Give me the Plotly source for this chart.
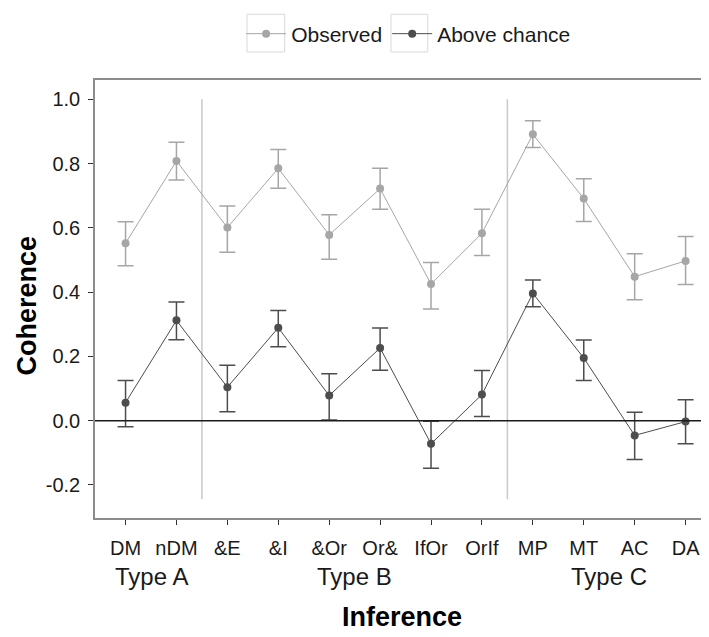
import plotly.graph_objects as go

categories = ["DM", "nDM", "&E", "&I", "&Or", "Or&", "IfOr", "OrIf", "MP", "MT", "AC", "DA"]
observed = [0.552, 0.808, 0.601, 0.785, 0.578, 0.722, 0.425, 0.583, 0.891, 0.691, 0.448, 0.497]
observed_lo = [0.482, 0.749, 0.524, 0.723, 0.502, 0.658, 0.347, 0.514, 0.850, 0.620, 0.376, 0.424]
observed_hi = [0.619, 0.866, 0.668, 0.844, 0.641, 0.785, 0.492, 0.658, 0.933, 0.753, 0.519, 0.573]
above = [0.056, 0.312, 0.104, 0.289, 0.078, 0.226, -0.072, 0.081, 0.396, 0.195, -0.046, -0.003]
above_lo = [-0.019, 0.252, 0.028, 0.230, 0.002, 0.157, -0.148, 0.013, 0.354, 0.125, -0.121, -0.072]
above_hi = [0.125, 0.369, 0.172, 0.343, 0.146, 0.288, -0.002, 0.156, 0.438, 0.251, 0.026, 0.065]
type_labels = ["Type A", "Type B", "Type C"]
type_pos = [1.5, 5.5, 10.5]
group_breaks = [2.5, 8.5]
y_ticks = [-0.2, 0.0, 0.2, 0.4, 0.6, 0.8, 1.0]
y_ticktext = ["-0.2", "0.0", "0.2", "0.4", "0.6", "0.8", "1.0"]

xpos = list(range(1, len(categories) + 1))
FONT = "Liberation Sans, Arial, sans-serif"
C_OBS = "#a6a6a6"
C_ABV = "#4d4d4d"
TXT = "#1a1a1a"

fig = go.Figure()

def add_series(name, vals, lo, hi, color):
    fig.add_trace(go.Scatter(
        x=xpos, y=vals, name=name, mode="lines+markers",
        line=dict(color=color, width=1),
        marker=dict(color=color, size=8),
        error_y=dict(type="data", symmetric=False,
                     array=[h - v for h, v in zip(hi, vals)],
                     arrayminus=[v - l for v, l in zip(vals, lo)],
                     color=color, thickness=1.5, width=8),
    ))

add_series("Observed", observed, observed_lo, observed_hi, C_OBS)
add_series("Above chance", above, above_lo, above_hi, C_ABV)

shapes = []
for b in group_breaks:
    shapes.append(dict(type="line", xref="x", yref="y", x0=b, x1=b, y0=-0.245, y1=1.0,
                       line=dict(color="#c8c8c8", width=1.5), layer="below"))
shapes.append(dict(type="line", xref="paper", yref="y", x0=0, x1=1, y0=0, y1=0,
                   line=dict(color="#1a1a1a", width=1.5)))
# legend key boxes
for x0, x1 in [(0.2476, 0.309), (0.482, 0.542)]:
    shapes.append(dict(type="rect", xref="paper", yref="paper", x0=x0, x1=x1, y0=1.064, y1=1.150,
                       line=dict(color="#d9d9d9", width=1), fillcolor="rgba(0,0,0,0)"))

annotations = []
for lab, p in zip(type_labels, type_pos):
    annotations.append(dict(x=p, y=-0.1347, xref="x", yref="paper", text=lab, showarrow=False,
                            font=dict(family=FONT, size=24, color=TXT),
                            xanchor="center", yanchor="middle"))
annotations.append(dict(x=0.5, y=-0.226, xref="paper", yref="paper", text="<b>Inference</b>",
                        showarrow=False, font=dict(family=FONT, size=27, color="#000"),
                        xanchor="center", yanchor="middle"))
annotations.append(dict(x=-0.1107, y=0.485, xref="paper", yref="paper", text="<b>Coherence</b>",
                        showarrow=False, textangle=-90, font=dict(family=FONT, size=27, color="#000"),
                        xanchor="center", yanchor="middle"))

fig.update_layout(
    width=701, height=629,
    margin=dict(l=87, r=0, t=72, b=119),
    paper_bgcolor="white", plot_bgcolor="white",
    font=dict(family=FONT, size=20, color=TXT),
    showlegend=True,
    legend=dict(orientation="h", x=0.238, y=1.105, xanchor="left", yanchor="middle",
                font=dict(family=FONT, size=21, color=TXT), itemwidth=40,
                bgcolor="rgba(0,0,0,0)"),
    shapes=shapes, annotations=annotations,
    xaxis=dict(range=[0.4, 12.46], tickvals=xpos, ticktext=categories,
               showgrid=False, zeroline=False, showline=True, mirror=True,
               linecolor="#8c8c8c", linewidth=1.5,
               ticks="outside", ticklen=5, tickcolor="#333", tickwidth=1,
               ticklabelstandoff=6,
               tickfont=dict(family=FONT, size=20, color=TXT)),
    yaxis=dict(range=[-0.303, 1.06], tickvals=y_ticks, ticktext=y_ticktext,
               showgrid=False, zeroline=False, showline=True,
               linecolor="#8c8c8c", linewidth=1.5,
               ticks="outside", ticklen=5, tickcolor="#333", tickwidth=1,
               ticklabelstandoff=4,
               tickfont=dict(family=FONT, size=20, color=TXT)),
)

fig.write_html("out.html")
